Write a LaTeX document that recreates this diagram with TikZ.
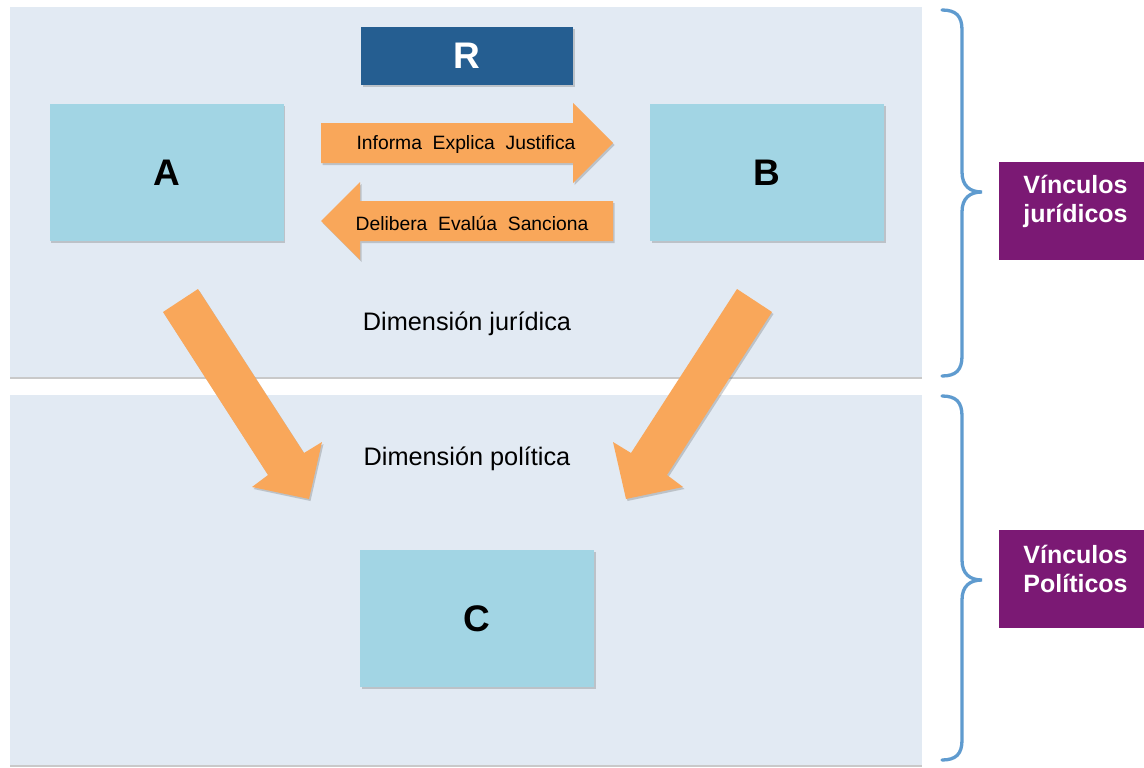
\documentclass[tikz,border=0pt]{standalone}
\usepackage{fontspec}
\setmainfont{Liberation Sans}
\usetikzlibrary{shadows}
\definecolor{panelbg}{HTML}{E2EAF3}
\definecolor{boxcyan}{HTML}{A2D5E4}
\definecolor{arroworange}{HTML}{F9A75A}
\definecolor{rblue}{HTML}{255E91}
\definecolor{linkpurple}{HTML}{7B1974}
\definecolor{bracecol}{HTML}{5F9BCF}
\tikzset{
  softshadow/.style={drop shadow={shadow xshift=1.5pt, shadow yshift=-2pt, opacity=0.3, fill=black!60}},
  panel/.style={fill=panelbg, draw=none, drop shadow={shadow xshift=0pt, shadow yshift=-2pt, opacity=0.35, fill=black!60}},
  actor/.style={fill=boxcyan, draw=none, minimum width=234pt, minimum height=137pt, inner sep=0pt, softshadow,
    font=\fontsize{37}{40}\selectfont\bfseries},
  fatarrow/.style={fill=arroworange, draw=none, softshadow},
  arrowlabel/.style={font=\fontsize{19.3}{22}\selectfont, inner sep=0pt},
  dimlabel/.style={font=\fontsize{25.3}{28}\selectfont, inner sep=0pt},
  linkbox/.style={fill=linkpurple, draw=none, minimum width=152pt, minimum height=98pt, inner sep=0pt},
  linklabel/.style={text=white, align=center, inner sep=0pt, font=\fontsize{25}{29}\selectfont\bfseries},
  brace/.style={draw=bracecol, line width=3.3pt, line cap=round}
}
\begin{document}
\begin{tikzpicture}[x=1pt, y=-1pt]
\useasboundingbox (0,0) rectangle (1144,768);
\fill[white] (0,0) rectangle (1144,768);

% the two dimension panels
\node[panel, minimum width=912pt, minimum height=370pt, inner sep=0pt, anchor=north west] (top) at (10,7) {};
\node[panel, minimum width=912pt, minimum height=370pt, inner sep=0pt, anchor=north west] (bottom) at (10,395) {};

% R header
\node[fill=rblue, minimum width=212pt, minimum height=58pt, inner sep=0pt, softshadow, text=white,
      font=\fontsize{37}{40}\selectfont\bfseries] (R) at (467,56) {\raisebox{-2.5pt}{R}};

% actors
\node[actor] (A) at (166.5,172.5) {\raisebox{-2.5pt}{A}};
\node[actor] (B) at (767,172.5) {\raisebox{-2.5pt}{B}};
\node[actor] (C) at (477,618.5) {\raisebox{-2.5pt}{C}};

% horizontal exchange arrows
\path[fatarrow] (321,123) -- (573,123) -- (573,103) -- (613,143) -- (573,183) -- (573,163) -- (321,163) -- cycle;
\node[arrowlabel] (inform) at (466,145) {Informa\ \ Explica\ \ Justifica};
\path[fatarrow] (613,201) -- (360,201) -- (360,182) -- (321,221) -- (360,260) -- (360,241) -- (613,241) -- cycle;
\node[arrowlabel] (delib) at (472,223) {Delibera\ \ Evalúa\ \ Sanciona};

% dimension labels
\node[dimlabel] (dj) at (467,323.5) {Dimensión jurídica};
\node[dimlabel] (dp) at (467,458.5) {Dimensión política};

% diagonal arrows towards C
\path[fatarrow] (163,312) -- (198,289) -- (304,453) -- (322,442) -- (309,499) -- (252,487) -- (268,475) -- cycle;
\path[fatarrow] (772,312) -- (737,289) -- (631,453) -- (613,442) -- (626,499) -- (683,487) -- (667,475) -- cycle;

% braces
\coordinate (b1top) at (942,10);
\coordinate (b1tip) at (982,192);
\coordinate (b1bot) at (942,376);
\draw[brace] (b1top) .. controls (956,10) and (962,16) .. (962,30) -- (962,172)
  .. controls (962,186) and (970,192) .. (b1tip)
  .. controls (970,192) and (962,198) .. (962,212) -- (962,356)
  .. controls (962,370) and (956,376) .. (b1bot);
\coordinate (b2top) at (942,396);
\coordinate (b2tip) at (982,580);
\coordinate (b2bot) at (942,760);
\draw[brace] (b2top) .. controls (956,396) and (962,402) .. (962,416) -- (962,560)
  .. controls (962,574) and (970,580) .. (b2tip)
  .. controls (970,580) and (962,586) .. (962,600) -- (962,740)
  .. controls (962,754) and (956,760) .. (b2bot);

% link type boxes
\node[linkbox, anchor=north west] (vj) at (999,162) {};
\node[linklabel] (vjtext) at (1075.5,201) {Vínculos\\jurídicos};
\node[linkbox, anchor=north west] (vp) at (999,530) {};
\node[linklabel] (vptext) at (1075.5,569) {Vínculos\\Políticos};
\end{tikzpicture}
\end{document}
